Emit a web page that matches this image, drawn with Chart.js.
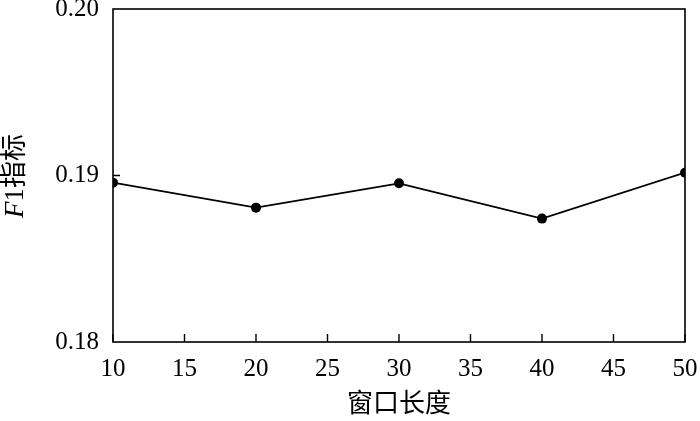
<!DOCTYPE html>
<html>
<head>
<meta charset="utf-8">
<script src="https://cdn.jsdelivr.net/npm/chart.js@4.4.0/dist/chart.umd.min.js"></script>
<style>
  html, body { margin: 0; padding: 0; background: #fff; }
  #wrap { width: 700px; height: 421px; }
</style>
</head>
<body>
<div id="wrap"><canvas id="chart"></canvas></div>
<script>
// data
const windowLengths = [10, 20, 30, 40, 50];
const f1Scores = [0.18957, 0.18807, 0.18953, 0.18741, 0.19017];
const xTickValues = [10, 15, 20, 25, 30, 35, 40, 45, 50];
const yTickValues = [0.18, 0.19, 0.20];

const serif = '"Liberation Serif", "Times New Roman", "Noto Sans CJK SC", serif';

// frame, inner ticks and y title
const framePlugin = {
  id: 'frame',
  afterDraw(chart) {
    const { ctx, chartArea: a, scales } = chart;
    ctx.save();
    ctx.strokeStyle = '#000';
    ctx.lineWidth = 1.6;
    ctx.strokeRect(a.left, a.top, a.right - a.left, a.bottom - a.top);

    ctx.lineWidth = 1.4;
    ctx.beginPath();
    xTickValues.forEach(v => {
      const x = scales.x.getPixelForValue(v);
      ctx.moveTo(x, a.bottom);
      ctx.lineTo(x, a.bottom - 8);
    });
    yTickValues.slice(1, -1).forEach(v => {
      const y = scales.y.getPixelForValue(v);
      ctx.moveTo(a.left, y);
      ctx.lineTo(a.left + 7, y);
    });
    ctx.stroke();

    // y axis title: italic F + "1指标"
    ctx.translate(16, 176);
    ctx.rotate(-Math.PI / 2);
    ctx.fillStyle = '#000';
    ctx.textBaseline = 'middle';
    const f1 = 'italic 27px ' + serif;
    const f2 = '27px ' + serif;
    ctx.font = f1;
    const w1 = ctx.measureText('F').width;
    ctx.font = f2;
    const w2 = ctx.measureText('1指标').width;
    let x0 = -(w1 + w2) / 2;
    ctx.font = f1;
    ctx.textAlign = 'left';
    ctx.fillText('F', x0, 0);
    ctx.font = f2;
    ctx.fillText('1指标', x0 + w1, 0);
    ctx.restore();
  }
};

const ctx = document.getElementById('chart').getContext('2d');
new Chart(ctx, {
  type: 'line',
  data: {
    datasets: [{
      data: windowLengths.map((x, i) => ({ x: x, y: f1Scores[i] })),
      borderColor: '#000',
      backgroundColor: '#000',
      borderWidth: 1.8,
      pointRadius: 5,
      pointBackgroundColor: '#000',
      pointBorderWidth: 0,
      tension: 0,
    }],
  },
  options: {
    responsive: true,
    maintainAspectRatio: false,
    animation: false,
    layout: { padding: { top: 9, right: 15, left: 0, bottom: 0 } },
    plugins: { legend: { display: false }, tooltip: { enabled: false } },
    scales: {
      x: {
        type: 'linear',
        min: 10,
        max: 50,
        afterBuildTicks: s => { s.ticks = xTickValues.map(v => ({ value: v })); },
        afterFit: s => { s.height = 79; s.paddingLeft = 0; s.paddingRight = 0; },
        grid: { display: false, drawTicks: false },
        border: { display: false },
        ticks: {
          autoSkip: false,
          maxRotation: 0,
          padding: 12,
          color: '#000',
          font: { family: serif, size: 25 },
        },
        title: {
          display: true,
          text: '窗口长度',
          color: '#000',
          font: { family: serif, size: 26 },
          padding: { top: 4, bottom: 0 },
        },
      },
      y: {
        min: 0.18,
        max: 0.20,
        afterBuildTicks: s => { s.ticks = yTickValues.map(v => ({ value: v })); },
        afterFit: s => { s.width = 113; s.paddingTop = 0; s.paddingBottom = 0; },
        grid: { display: false, drawTicks: false },
        border: { display: false },
        ticks: {
          padding: 14,
          color: '#000',
          font: { family: serif, size: 25 },
          callback: v => Number(v).toFixed(2),
        },
      },
    },
  },
  plugins: [framePlugin],
});
</script>
</body>
</html>
